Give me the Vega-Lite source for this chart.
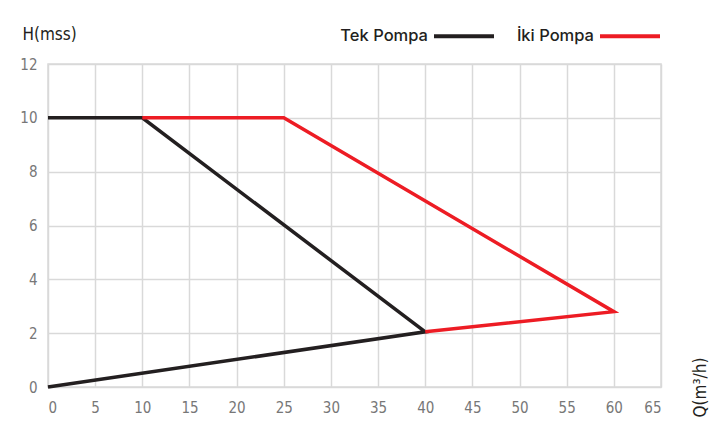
{
  "$schema": "https://vega.github.io/schema/vega-lite/v6.json",
  "autosize": "none",
  "width": 613,
  "height": 323,
  "padding": {"left": 48, "top": 64, "right": 60, "bottom": 39},
  "background": "white",
  "config": {
    "view": {"stroke": "#d9d9d9", "strokeWidth": 1.5},
    "font": "DejaVu Sans Condensed, Liberation Sans, sans-serif"
  },
  "data": {
    "values": [
      {"pompa": "Tek Pompa", "i": 0, "q": 0, "h": 10},
      {"pompa": "Tek Pompa", "i": 1, "q": 10, "h": 10},
      {"pompa": "Tek Pompa", "i": 2, "q": 40, "h": 2.05},
      {"pompa": "Tek Pompa", "i": 3, "q": 0, "h": 0},
      {"pompa": "İki Pompa", "i": 0, "q": 10, "h": 10},
      {"pompa": "İki Pompa", "i": 1, "q": 25, "h": 10},
      {"pompa": "İki Pompa", "i": 2, "q": 60, "h": 2.8},
      {"pompa": "İki Pompa", "i": 3, "q": 40, "h": 2.05}
    ]
  },
  "mark": {"type": "line", "strokeWidth": 3.5, "strokeJoin": "miter"},
  "encoding": {
    "x": {
      "field": "q", "type": "quantitative",
      "scale": {"domain": [0, 65], "nice": false},
      "axis": {
        "values": [0,5,10,15,20,25,30,35,40,45,50,55,60,65],
        "title": "Q(m³/h)", "titleAngle": 270, "titleX": 652, "titleY": 0,
        "titleAlign": "center", "titleBaseline": "middle",
        "titleFontSize": 17, "titleFontWeight": "normal", "titleColor": "#231f20",
        "grid": true, "gridColor": "#d9d9d9", "gridWidth": 1.5,
        "domain": false, "ticks": false,
        "labelFontSize": 15, "labelColor": "#777777", "labelPadding": 13
      }
    },
    "y": {
      "field": "h", "type": "quantitative",
      "scale": {"domain": [0, 12], "nice": false},
      "axis": {
        "values": [0,2,4,6,8,10,12],
        "title": "H(mss)", "titleAngle": 0, "titleX": -26, "titleY": -30,
        "titleAlign": "left", "titleBaseline": "middle",
        "titleFontSize": 17, "titleFontWeight": "normal", "titleColor": "#231f20",
        "grid": true, "gridColor": "#d9d9d9", "gridWidth": 1.5,
        "domain": false, "ticks": false,
        "labelFontSize": 15, "labelColor": "#777777", "labelPadding": 11
      }
    },
    "order": {"field": "i", "type": "quantitative"},
    "color": {
      "field": "pompa", "type": "nominal",
      "scale": {"domain": ["Tek Pompa", "İki Pompa"], "range": ["#231f20", "#ed1c24"]},
      "legend": {
        "title": null, "orient": "none", "direction": "horizontal",
        "legendX": 384, "legendY": -60,
        "symbolType": "stroke", "symbolSize": 3600, "symbolStrokeWidth": 4,
        "labelAlign": "right", "labelOffset": -68,
        "labelFont": "Inter, DejaVu Sans, sans-serif",
        "labelFontSize": 16.5, "labelFontWeight": 500, "labelColor": "#231f20",
        "columnPadding": 14
      }
    }
  }
}
